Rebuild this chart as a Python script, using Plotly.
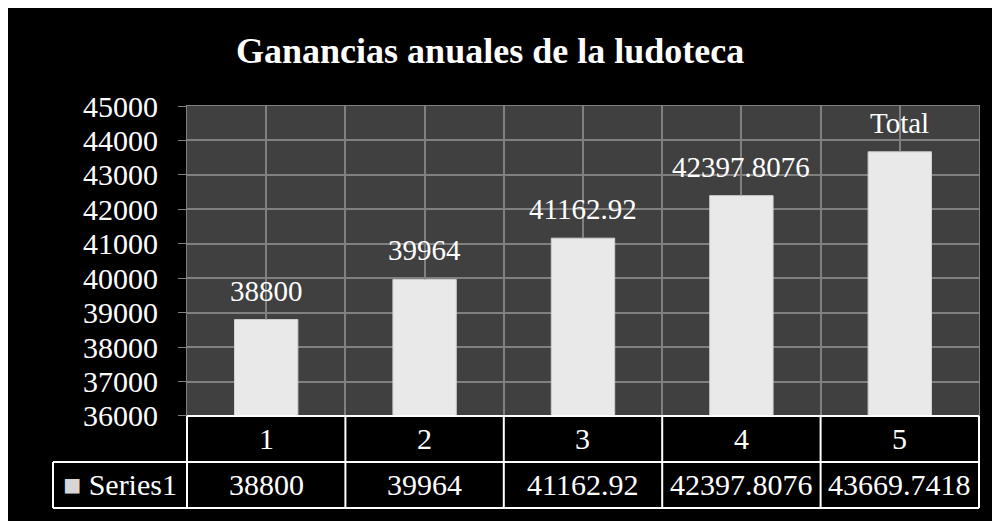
"""Ganancias anuales de la ludoteca - barras con tabla de datos."""

import plotly.graph_objects as go

periodos = [1, 2, 3, 4, 5]
ganancias = [38800, 39964, 41162.92, 42397.8076, 43669.7418]
etiquetas = ["38800", "39964", "41162.92", "42397.8076", "Total"]
celdas = ["38800", "39964", "41162.92", "42397.8076", "43669.7418"]
serie = "Series1"

FONT = "Liberation Serif, Times New Roman, serif"
GRID = "#808080"

X_DOM0 = 0.1447   # inicio del área de barras (la columna de leyenda queda a la izquierda)
Y_DOM0 = 0.2289   # la tabla ocupa el tramo inferior, dos filas
ROW_H = Y_DOM0 / 2

fig = go.Figure()

fig.add_trace(go.Bar(
    x=periodos, y=ganancias, width=0.4,
    marker=dict(color="#e9e9e9", line=dict(color="#d0d0d0", width=1)),
    showlegend=False, hoverinfo="skip",
))

# etiquetas de datos con línea guía
for p, v, t in zip(periodos, ganancias, etiquetas):
    fig.add_annotation(
        x=p, y=v, text=t, showarrow=True, arrowhead=0, arrowwidth=1,
        arrowcolor=GRID, ax=0, ay=-29,
        font=dict(family=FONT, size=29, color="white"),
    )

# tabla de datos: fila de categorías + fila de valores
cell_font = dict(family=FONT, size=30, color="white")
anchor = dict(xanchor="center", yanchor="middle", showarrow=False, font=cell_font)
for p, c in zip(periodos, celdas):
    fig.add_annotation(x=p, xref="x", y=ROW_H * 1.5, yref="paper",
                       text=str(p), **anchor)
    fig.add_annotation(x=p, xref="x", y=ROW_H * 0.5, yref="paper",
                       text=c, **anchor)
fig.add_annotation(x=X_DOM0 / 2, xref="paper", y=ROW_H * 0.5, yref="paper",
                   text="<span style='color:#d6d6d6'>■</span> " + serie, **anchor)

line = dict(color="white", width=2)
col_w = (1 - X_DOM0) / len(periodos)
# horizontales
fig.add_shape(type="line", xref="paper", yref="paper", x0=X_DOM0, x1=1,
              y0=Y_DOM0, y1=Y_DOM0, line=line)
for yy in (ROW_H, 0):
    fig.add_shape(type="line", xref="paper", yref="paper", x0=0, x1=1,
                  y0=yy, y1=yy, line=line)
# verticales
fig.add_shape(type="line", xref="paper", yref="paper", x0=0, x1=0,
              y0=0, y1=ROW_H, line=line)
for k in range(len(periodos) + 1):
    xx = X_DOM0 + k * col_w
    fig.add_shape(type="line", xref="paper", yref="paper", x0=xx, x1=xx,
                  y0=0, y1=Y_DOM0, line=line)

fig.update_layout(
    width=992, height=513,
    margin=dict(l=45, r=21, t=98, b=13),
    paper_bgcolor="black",
    plot_bgcolor="#404040",
    title=dict(text="<b>Ganancias anuales de la ludoteca</b>",
               x=0.486, xanchor="center", y=0.918, yanchor="middle",
               font=dict(family=FONT, size=36, color="white")),
    xaxis=dict(domain=[X_DOM0, 1], range=[0.5, 5.5], tick0=0.5, dtick=0.5,
               showticklabels=False, showgrid=True, gridcolor=GRID, gridwidth=1.5,
               zeroline=False, showline=True, linecolor=GRID, mirror=True,
               automargin=False),
    yaxis=dict(domain=[Y_DOM0, 1], range=[36000, 45000], dtick=1000,
               tickformat="d", automargin=False,
               showgrid=True, gridcolor=GRID, gridwidth=1.5,
               ticks="outside", ticklen=8, tickcolor=GRID, ticklabelstandoff=14,
               showline=True, linecolor=GRID, mirror=True, zeroline=False,
               tickfont=dict(family=FONT, size=30, color="white")),
)

fig.write_html("out.html")
